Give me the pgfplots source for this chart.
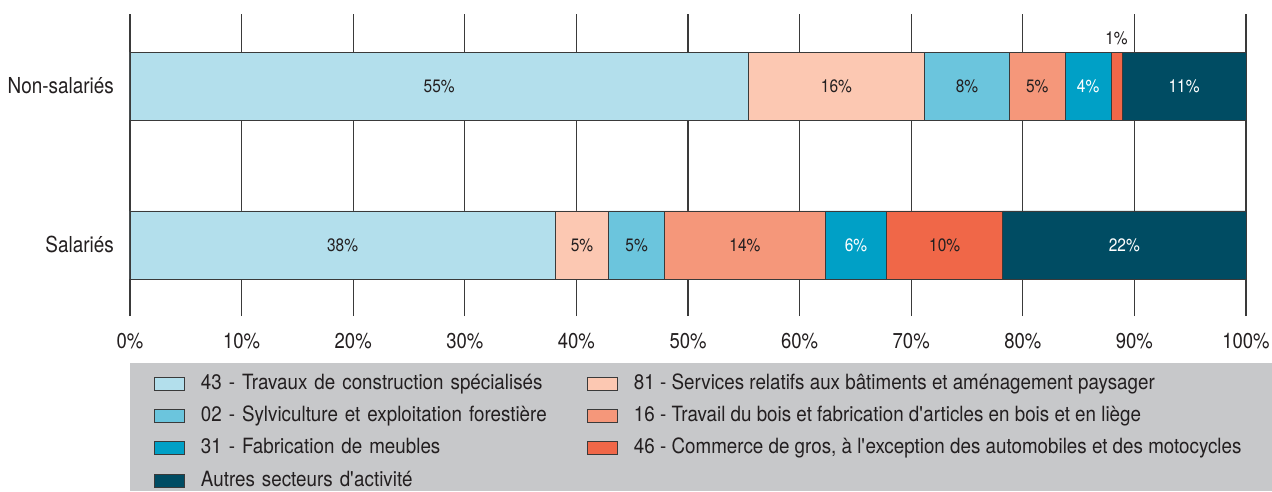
\documentclass[border=0pt]{standalone}
\usepackage{pgfplots}
\pgfplotsset{compat=1.18}
\usepackage{fontspec}
\setmainfont{TeX Gyre Heros}[FakeStretch=0.86]
\newfontfamily\legfont{TeX Gyre Heros}[FakeStretch=0.895]
\definecolor{c43}{HTML}{B3DFEC}
\definecolor{c81}{HTML}{FCC8B2}
\definecolor{c02}{HTML}{6BC5DD}
\definecolor{c16}{HTML}{F5977A}
\definecolor{c31}{HTML}{00A0C6}
\definecolor{c46}{HTML}{F06748}
\definecolor{caut}{HTML}{004C63}
\definecolor{cgray}{HTML}{C7C8CA}
\definecolor{ctext}{HTML}{231F20}
\definecolor{cgrid}{HTML}{3A3A3A}
\definecolor{cborder}{HTML}{3A3A3A}
\begin{document}
\begin{tikzpicture}
\fill[cgray] (0pt,-47pt) rectangle (1142pt,-175pt);
\begin{axis}[
  at={(0pt,0pt)}, anchor=south west,
  scale only axis, width=1116pt, height=302pt,
  xbar stacked, bar width=68pt,
  xmin=0, xmax=100, ymin=-0.447, ymax=1.453,
  xtick={0,10,...,100},
  xticklabels={0\%,10\%,20\%,30\%,40\%,50\%,60\%,70\%,80\%,90\%,100\%},
  ytick={0,1}, yticklabels={Salariés,Non-salariés},
  xmajorgrids, major grid style={draw=cgrid, line width=1.2pt},
  axis line style={draw=none},
  major tick length=0pt,
  tick style={draw=none},
  xticklabel style={anchor=base, inner sep=0pt, yshift=-32.3pt, font=\fontsize{21.5}{25}\selectfont, text=ctext},
  yticklabel style={anchor=east, inner sep=0pt, xshift=-16pt, font=\fontsize{22}{26}\selectfont, text=ctext},
  clip=false,
  point meta=explicit symbolic,
  nodes near coords={\pgfplotspointmeta\%},
  every node near coord/.append style={font=\fontsize{18}{22}\selectfont, inner sep=0pt, text=ctext},
  legend columns=2,
  legend cell align=left,
  legend style={
    draw=none, fill=none,
    at={(axis description cs:0.0215,-0.1937)}, anchor=north west,
    font=\legfont\fontsize{21}{25}\selectfont, text=ctext,
    inner sep=0pt, outer sep=0pt,
    row sep=13.2pt,
    nodes={inner sep=0pt, text height=15pt, text depth=4pt, anchor=west},
    /tikz/every odd column/.style={column sep=16pt},
    /tikz/column 2/.style={nodes={text width=386pt}},
  },
  legend image code/.code={\draw[#1, line width=1pt] (0pt,-6.5pt) rectangle (30pt,6.5pt);},
]
\addplot[fill=c43, draw=cborder, line width=0.9pt] table[x=x,y=y,meta=l] {
x y l
55.4 1 55
38.1 0 38
};
\addlegendentry{43 - Travaux de construction spécialisés}
\addplot[fill=c81, draw=cborder, line width=0.9pt] table[x=x,y=y,meta=l] {
x y l
15.8 1 16
4.8 0 5
};
\addlegendentry{81 - Services relatifs aux bâtiments et aménagement paysager}
\addplot[fill=c02, draw=cborder, line width=0.9pt] table[x=x,y=y,meta=l] {
x y l
7.6 1 8
5.0 0 5
};
\addlegendentry{02 - Sylviculture et exploitation forestière}
\addplot[fill=c16, draw=cborder, line width=0.9pt] table[x=x,y=y,meta=l] {
x y l
5.0 1 5
14.4 0 14
};
\addlegendentry{16 - Travail du bois et fabrication d\textquotesingle articles en bois et en liège}
\addplot[fill=c31, draw=cborder, line width=0.9pt, every node near coord/.append style={text=white}] table[x=x,y=y,meta=l] {
x y l
4.1 1 4
5.5 0 6
};
\addlegendentry{31 - Fabrication de meubles}
\addplot[fill=c46, draw=cborder, line width=0.9pt, visualization depends on={\thisrow{dy} \as \dy}, every node near coord/.append style={yshift=\dy pt}] table[x=x,y=y,meta=l] {
x y l dy
1.0 1 1 47.3
10.4 0 10 0
};
\addlegendentry{46 - Commerce de gros, à l\textquotesingle exception des automobiles et des motocycles}
\addplot[fill=caut, draw=cborder, line width=0.9pt, every node near coord/.append style={text=white}] table[x=x,y=y,meta=l] {
x y l
11.1 1 11
21.8 0 22
};
\addlegendentry{Autres secteurs d\textquotesingle activité}
\end{axis}
\pgfresetboundingbox
\path[use as bounding box] (-130pt,-175pt) rectangle (1142pt,316pt);
\end{tikzpicture}
\end{document}
